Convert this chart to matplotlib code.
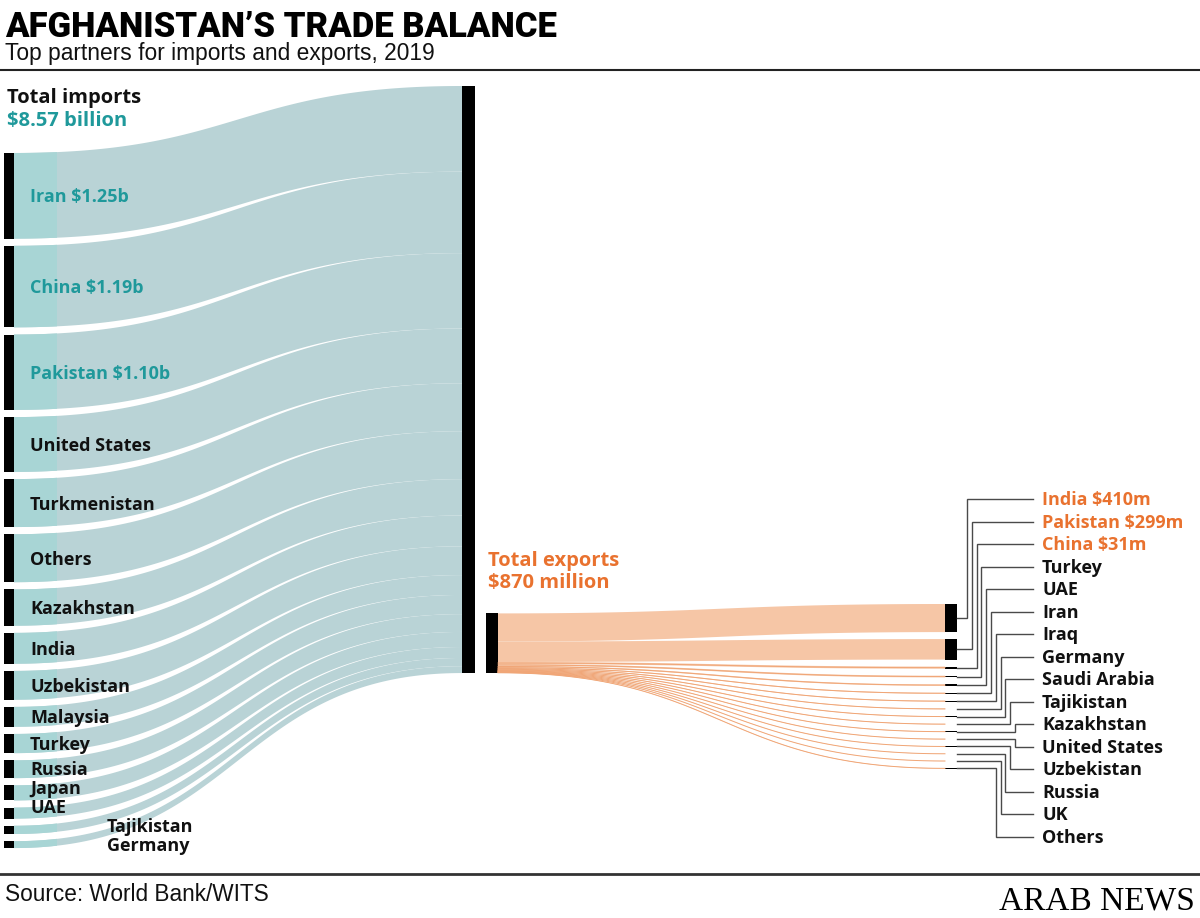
import matplotlib.pyplot as plt
from matplotlib.patches import Rectangle
import numpy as np

# Afghanistan imports 2019, $ billion (top three from the labels, rest)
imp_partners = ['Iran', 'China', 'Pakistan', 'United States', 'Turkmenistan', 'Others',
                'Kazakhstan', 'India', 'Uzbekistan', 'Malaysia', 'Turkey', 'Russia',
                'Japan', 'UAE', 'Tajikistan', 'Germany']
imp_values = [1.25, 1.19, 1.10, 0.80, 0.70, 0.70, 0.53, 0.45, 0.42, 0.29, 0.28, 0.26,
              0.22, 0.16, 0.12, 0.10]
imp_total = 8.57
imp_highlight = 3

# exports 2019, $ million
exp_partners = ['India', 'Pakistan', 'China', 'Turkey', 'UAE', 'Iran', 'Iraq', 'Germany',
                'Saudi Arabia', 'Tajikistan', 'Kazakhstan', 'United States', 'Uzbekistan',
                'Russia', 'UK', 'Others']
exp_values = [410, 299, 31, 25, 20, 14, 12, 10, 9, 8, 7, 6, 5, 4, 3, 7]
exp_total = 870
exp_highlight = 3

TEAL_FLOW = '#b9d3d6'
TEAL_BAND = '#a8d5d5'
TEAL_TEXT = '#1f999b'
ORANGE_FLOW = '#f6c6a6'
ORANGE_LINE = '#f0a677'
ORANGE_TEXT = '#e9722f'
INK = '#111111'
LABEL_FONT = 'Open Sans'

W, H = 1200, 918
PX = 68.5          # pixels per $1bn
CAP = 0.714        # cap height of the label font, in em

fig = plt.figure(figsize=(12, 9.18), dpi=100)
ax = fig.add_axes([0, 0, 1, 1])
ax.set_xlim(0, W)
ax.set_ylim(H, 0)
ax.axis('off')


def curve(x0, y0, x1, y1, n=120):
    t = np.linspace(0, 1, n)
    xm = (x0 + x1) / 2
    x = (1 - t)**3 * x0 + 3 * (1 - t)**2 * t * xm + 3 * (1 - t) * t**2 * xm + t**3 * x1
    y = y0 + (y1 - y0) * (3 * t**2 - 2 * t**3)
    return x, y


def flow(x0, x1, top0, bot0, top1, bot1, color):
    xa, ya = curve(x0, top0, x1, top1)
    xb, yb = curve(x0, bot0, x1, bot1)
    return ax.fill(np.r_[xa, xb[::-1]], np.r_[ya, yb[::-1]], color=color, lw=0)[0]


def label(x, yc, txt, size, color, **kw):
    # yc = middle of the capitals
    ax.text(x, yc + CAP * size * 100 / 72 / 2, txt, fontsize=size, color=color,
            fontweight='bold', family=LABEL_FONT, va='baseline', **kw)


def fit(t, width):
    r = fig.canvas.get_renderer()
    w = t.get_window_extent(r).width
    t.set_fontsize(t.get_fontsize() * width / w)


# ---- imports ----
band_clip = Rectangle((14, 0), 43, H, transform=ax.transData)
y_left, y_right = 153, 86
gap = 7.2
labels = []
for i, (name, v) in enumerate(zip(imp_partners, imp_values)):
    h = v * PX
    flow(14, 462, y_left, y_left + h, y_right, y_right + h, TEAL_FLOW)
    p = flow(14, 462, y_left, y_left + h, y_right, y_right + h, TEAL_BAND)
    p.set_clip_path(band_clip)
    ax.add_patch(Rectangle((4, y_left), 10, h, color='black', lw=0))
    txt = f'{name} ${v:.2f}b' if i < imp_highlight else name
    col = TEAL_TEXT if i < imp_highlight else INK
    x = 107 if v < 0.15 else 30
    labels.append([y_left + h / 2, x, txt, col])
    y_left += h + gap
    y_right += h

ax.add_patch(Rectangle((462, 86), 13, imp_total * PX, color='black', lw=0))

# keep labels of the thin bars apart, working up from the bottom
for k in range(len(labels) - 2, -1, -1):
    if labels[k + 1][0] - labels[k][0] < 19:
        labels[k][0] = labels[k + 1][0] - 19
for yc, x, txt, col in labels:
    label(x, yc, txt, 13, col)

label(7, 96, 'Total imports', 14.5, INK)
label(7, 119, f'${imp_total} billion', 14.5, TEAL_TEXT)

# ---- exports ----
ex_h = exp_total * PX / 1000
y_left = 673 - ex_h
y_right = 604
gap = 7.0
bar_mid = []
for i, (name, v) in enumerate(zip(exp_partners, exp_values)):
    h = v * PX / 1000
    flow(498, 945, y_left, y_left + h, y_right, y_right + h, ORANGE_FLOW)
    if i >= 2:
        xc, yc = curve(498, y_left + h / 2, 945, y_right + h / 2)
        ax.plot(xc, yc, color=ORANGE_LINE, lw=0.7)
    ax.add_patch(Rectangle((945, y_right), 12, h, color='black', lw=0))
    bar_mid.append(y_right + h / 2)
    y_left += h
    y_right += h + gap

ax.add_patch(Rectangle((486, 673 - ex_h), 12, ex_h, color='black', lw=0))
label(488, 559, 'Total exports', 14.5, ORANGE_TEXT)
label(488, 581, f'${exp_total} million', 14.5, ORANGE_TEXT)

# right-hand labels with elbow connectors
lab_y = 499 + 22.5 * np.arange(len(exp_partners))
n_up = int(np.sum(lab_y < np.array(bar_mid)))
for i, name in enumerate(exp_partners):
    step = i if i < n_up else 2 * (n_up - 1) + 1 - i
    vx = 967 + 4.8 * step
    ax.plot([957, vx, vx, 1033], [bar_mid[i], bar_mid[i], lab_y[i], lab_y[i]],
            color='#4a4a4a', lw=1.0, solid_joinstyle='miter')
    if i < exp_highlight:
        label(1042, lab_y[i], f'{name} ${exp_values[i]}m', 13, ORANGE_TEXT)
    else:
        label(1042, lab_y[i], name, 13, INK)

# ---- header and footer ----
title = ax.text(5, 37, 'AFGHANISTAN\u2019S TRADE BALANCE', fontsize=26, family='Roboto',
                fontweight=900, color='black', va='baseline')
sub = ax.text(5, 60, 'Top partners for imports and exports, 2019', fontsize=15,
              family='Liberation Sans', color=INK, va='baseline')
src = ax.text(5, 901, 'Source: World Bank/WITS', fontsize=15, family='Liberation Sans',
              color=INK, va='baseline')
ax.text(1195, 909, 'ARAB NEWS', fontsize=24, family='Liberation Serif', color='black',
        ha='right', va='baseline')
ax.plot([0, W], [70, 70], color='#222222', lw=1.5)
ax.plot([0, W], [874, 874], color='#333333', lw=2)

fig.canvas.draw()
fit(title, 552)
fit(sub, 428)
fit(src, 265)

fig.savefig('out.png', dpi=100, facecolor='white')
